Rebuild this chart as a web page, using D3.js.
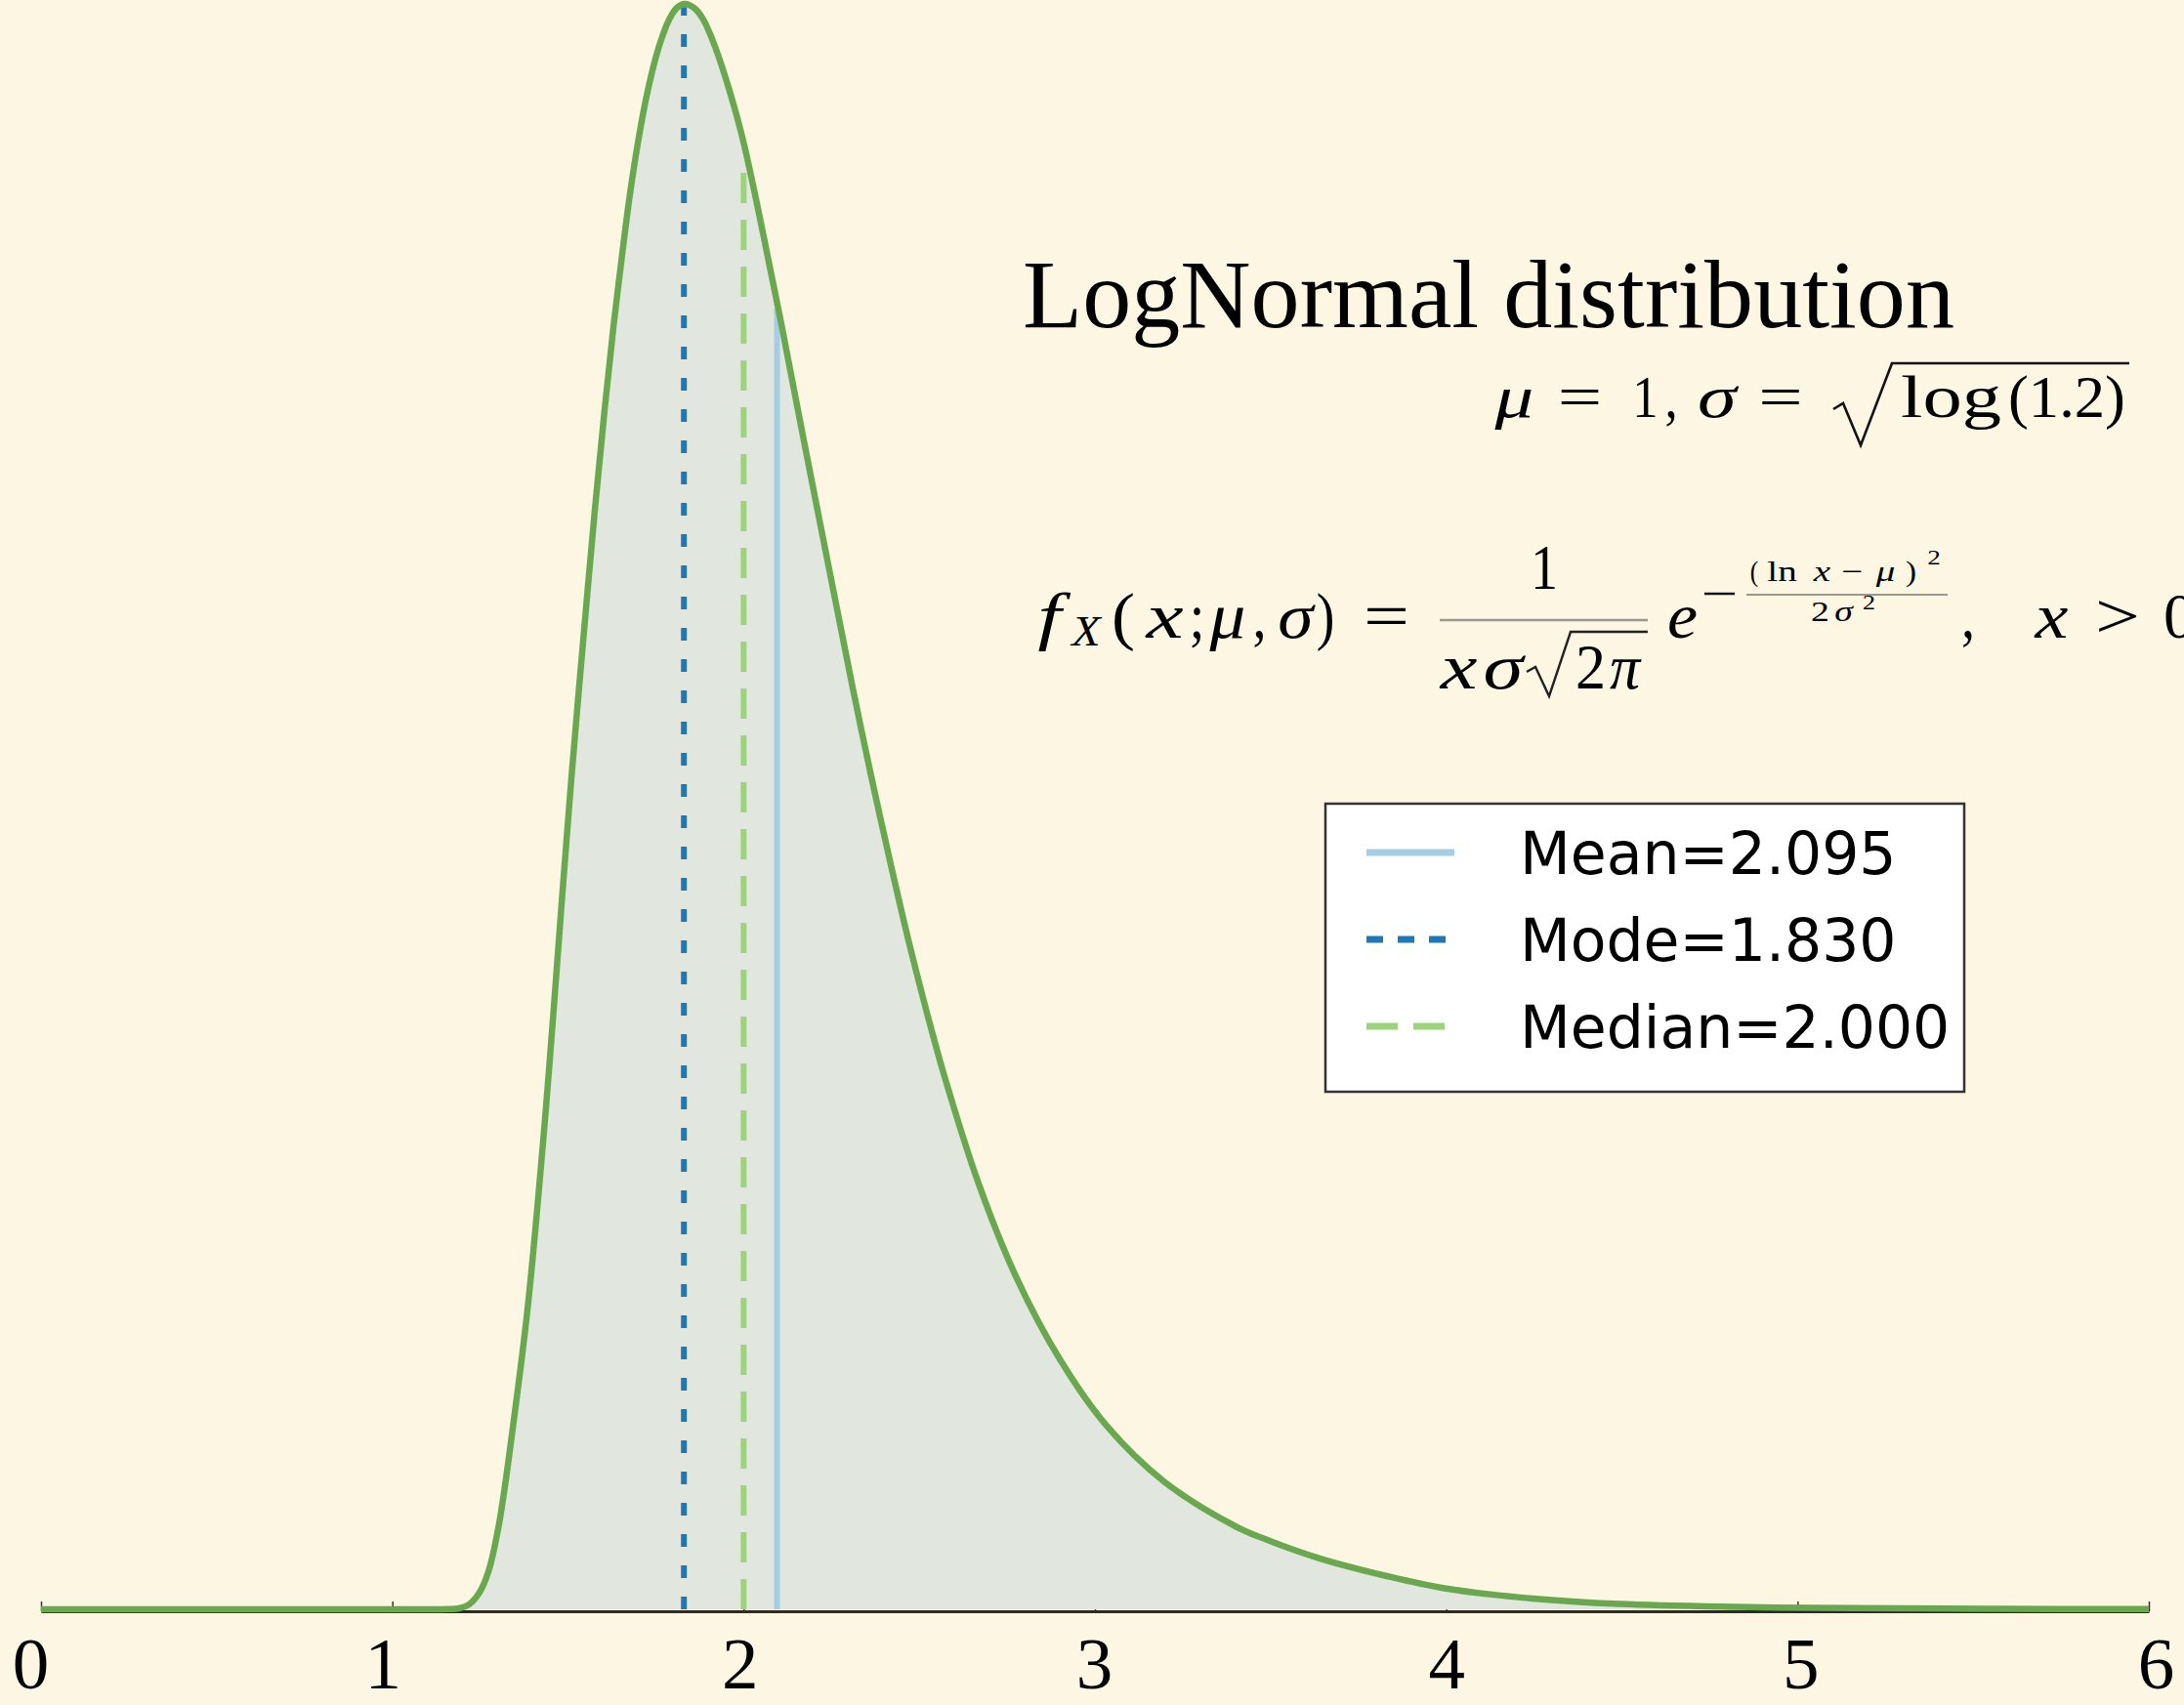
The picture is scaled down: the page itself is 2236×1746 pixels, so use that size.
<!DOCTYPE html>
<html>
<head>
<meta charset="utf-8">
<script src="https://cdn.jsdelivr.net/npm/d3@7"></script>
<style>
  html, body { margin: 0; padding: 0; background: #fdf6e3; }
  svg { display: block; }
</style>
</head>
<body>
<svg id="chart" width="2236" height="1746"></svg>
<script>
// ---------------- data ----------------
const xTicks = [0, 1, 2, 3, 4, 5, 6];
const xTickLabels = ["0", "1", "2", "3", "4", "5", "6"];

// density curve samples (x, pdf)
const curveX = [0.0, 0.5, 1.0, 1.162, 1.190, 1.218, 1.246, 1.273, 1.304, 1.351, 1.385, 1.412, 1.436,
  1.458, 1.483, 1.512, 1.544, 1.577, 1.605, 1.630, 1.652, 1.676, 1.702, 1.727, 1.757, 1.788, 1.810,
  1.832, 1.860, 1.885, 1.921, 1.960, 1.996, 2.033, 2.071, 2.108, 2.153, 2.198, 2.260, 2.312, 2.362,
  2.420, 2.472, 2.524, 2.570, 2.667, 2.775, 2.902, 3.033, 3.196, 3.400, 3.498, 3.637, 3.831,
  3.995, 4.246, 4.493, 4.827, 5.158, 5.583, 6.0];
const curveY = [0.0, 0.0, 0.0, 0.0001, 0.0006, 0.0030, 0.0097, 0.0231, 0.0535, 0.1265, 0.1873, 0.2482, 0.3090,
  0.3698, 0.4428, 0.5237, 0.6052, 0.6861, 0.7488, 0.7999, 0.8400, 0.8808, 0.9173, 0.9459, 0.9720, 0.9903, 0.9976,
  1.0000, 0.9973, 0.9903, 0.9720, 0.9459, 0.9173, 0.8808, 0.8400, 0.7999, 0.7488, 0.6983, 0.6296, 0.5724, 0.5201,
  0.4629, 0.4142, 0.3698, 0.3333, 0.2664, 0.2074, 0.1551, 0.1144, 0.0797, 0.0517, 0.0426, 0.0319, 0.0207,
  0.0131, 0.0067, 0.0033, 0.0015, 0.0007, 0.0003, 0.0001];

// statistic markers
const statNames = ["Mean", "Mode", "Median"];
const statValues = [2.095, 1.830, 2.000];
const statLabels = ["Mean=2.095", "Mode=1.830", "Median=2.000"];
const statTops = [0.810, 0.998, 0.895];   // height each marker line reaches

// ---------------- styles ----------------
const statColors = ["#a6cee3", "#1f78b4", "#9dd47b"];
const statDashLine = [null, "13 19", "31 17"];
const statDashLegend = [null, "17 15", "32 16"];
const curveColor = "#6aa84f";
const fillColor = "#e1e7df";
const tickLabelShift = [-11, -10, -4, -1, 0, 3, 7];

const svg = d3.select("#chart");
svg.append("rect").attr("width", 2236).attr("height", 1746).attr("fill", "#fdf6e3");

const x = d3.scaleLinear().domain([0, 6]).range([42, 2200]);
const y = d3.scaleLinear().domain([0, 1]).range([1648, 4]);

const pts = curveX.map((d, i) => [d, curveY[i]]);

// axis
const axis = d3.axisBottom(x).tickValues(xTicks).tickFormat((d, i) => xTickLabels[i])
  .tickSizeInner(-10).tickSizeOuter(0);
const gAxis = svg.append("g").attr("transform", "translate(0,1650)").call(axis);
gAxis.select(".domain").attr("stroke", "#2b2b2b").attr("stroke-width", 3);
gAxis.selectAll(".tick line").attr("stroke", "#333").attr("stroke-width", 1.5);
gAxis.selectAll(".tick text")
  .attr("y", 79).attr("dy", null)
  .attr("dx", (d, i) => tickLabelShift[i])
  .attr("fill", "#000")
  .style("font-family", "'Liberation Serif', 'Times New Roman', serif")
  .style("font-size", "75px");

// filled area
svg.append("path")
  .datum(pts)
  .attr("fill", fillColor)
  .attr("d", d3.area().x(d => x(d[0])).y0(y(0)).y1(d => y(d[1])).curve(d3.curveCatmullRom.alpha(0.5)));

// vertical stat lines (drawn bottom-up)
statValues.forEach((v, i) => {
  svg.append("line")
    .attr("x1", x(v)).attr("x2", x(v))
    .attr("y1", y(0)).attr("y2", y(statTops[i]))
    .attr("stroke", statColors[i])
    .attr("stroke-width", 6)
    .attr("stroke-dasharray", statDashLine[i]);
});

// curve
svg.append("path")
  .datum(pts)
  .attr("fill", "none")
  .attr("stroke", curveColor)
  .attr("stroke-width", 6.5)
  .attr("stroke-linejoin", "round")
  .attr("d", d3.line().x(d => x(d[0])).y(d => y(d[1])).curve(d3.curveCatmullRom.alpha(0.5)));

// ---------------- text ----------------
const serif = "'Liberation Serif', 'Times New Roman', serif";
// place a text piece centred in [x0,x1], horizontally scaled to fill that width
function put(txt, x0, x1, base, size, italic, font) {
  const cx = (x0 + x1) / 2;
  const t = svg.append("text")
    .attr("x", cx).attr("y", base)
    .attr("text-anchor", "middle")
    .style("font-family", font || serif)
    .style("font-size", size + "px")
    .style("font-style", italic ? "italic" : "normal")
    .attr("fill", "#000")
    .text(txt);
  const w = t.node().getBBox().width;
  if (w > 0) {
    let sx = (x1 - x0) / w;
    sx = Math.max(0.85, Math.min(1.3, sx));
    t.attr("transform", `translate(${cx},0) scale(${sx},1) translate(${-cx},0)`);
  }
  return t;
}

// title
svg.append("text").attr("x", 1047).attr("y", 335)
  .style("font-family", serif).style("font-size", "100px").attr("fill", "#000")
  .attr("textLength", 954).attr("lengthAdjust", "spacingAndGlyphs")
  .text("LogNormal distribution");

// parameters line
put("\u03bc", 1530, 1571, 427, 62, true);
put("=", 1594, 1641, 427, 62, false);
put("1", 1674, 1695, 427, 62, false);
put(",", 1706, 1716, 427, 62, false);
put("\u03c3", 1736, 1780, 427, 62, true);
put("=", 1800, 1846, 427, 62, false);
svg.append("path").attr("d", "M1877,419 L1887,413 L1905,456 L1937,372 L2180,372")
  .attr("fill", "none").attr("stroke", "#111").attr("stroke-width", 2.6).attr("stroke-linejoin", "miter");
put("log", 1945, 2050, 427, 62, false);
put("(1.2)", 2056, 2176, 427, 62, false);

// pdf formula
put("f", 1057, 1092, 653, 66, true);
put("X", 1095, 1129, 661, 44, true);
put("(", 1138, 1162, 653, 66, false);
put("x", 1171, 1214, 653, 66, true);
put(";", 1219, 1232, 653, 66, false);
put("\u03bc", 1238, 1276, 653, 66, true);
put(",", 1284, 1295, 653, 66, false);
put("\u03c3", 1307, 1346, 653, 66, true);
put(")", 1350, 1364, 653, 66, false);
put("=", 1396, 1443, 653, 66, false);
svg.append("line").attr("x1", 1474).attr("x2", 1687).attr("y1", 635).attr("y2", 635)
  .attr("stroke", "#9a978e").attr("stroke-width", 2.5);
put("1", 1568, 1594, 603, 66, false);
put("x", 1474, 1513, 705, 66, true);
put("\u03c3", 1517, 1561, 705, 66, true);
svg.append("path").attr("d", "M1563,688 L1572,683 L1586,713 L1608,647 L1687,647")
  .attr("fill", "none").attr("stroke", "#222").attr("stroke-width", 2.4);
put("2", 1613, 1644, 705, 66, false);
put("\u03c0", 1647, 1680, 705, 66, true);
put("e", 1707, 1738, 653, 66, true);
svg.append("line").attr("x1", 1745).attr("x2", 1776).attr("y1", 608).attr("y2", 608)
  .attr("stroke", "#111").attr("stroke-width", 2.5);
// exponent
put("(", 1792, 1800, 595, 30, false);
put("ln", 1803, 1846, 595, 30, false);
put("x", 1854, 1877, 595, 30, true);
put("\u2212", 1881, 1912, 595, 30, false);
put("\u03bc", 1916, 1945, 595, 30, true);
put(")", 1951, 1962, 595, 30, false);
put("2", 1970, 1990, 578, 21, false);
svg.append("line").attr("x1", 1788).attr("x2", 1994).attr("y1", 609).attr("y2", 609)
  .attr("stroke", "#9a978e").attr("stroke-width", 2);
put("2", 1854, 1873, 636, 29, false);
put("\u03c3", 1875, 1900, 636, 29, true);
put("2", 1905, 1922, 624, 20, false);
put(",", 2010, 2020, 653, 66, false);
put("x", 2083, 2118, 653, 66, true);
put(">", 2145, 2191, 653, 66, false);
put("0", 2215, 2248, 653, 66, false);

// ---------------- legend ----------------
const lg = svg.append("g");
lg.append("rect").attr("x", 1357).attr("y", 823).attr("width", 654).attr("height", 295)
  .attr("fill", "#fff").attr("stroke", "#333").attr("stroke-width", 2.5);
const legendRowY = [873, 962, 1051];
statNames.forEach((n, i) => {
  lg.append("line")
    .attr("x1", 1399).attr("x2", 1489)
    .attr("y1", legendRowY[i]).attr("y2", legendRowY[i])
    .attr("stroke", statColors[i]).attr("stroke-width", 7)
    .attr("stroke-dasharray", statDashLegend[i]);
  lg.append("text")
    .attr("x", 1556).attr("y", legendRowY[i] + 22)
    .style("font-family", "'DejaVu Sans', sans-serif")
    .style("font-size", "60px")
    .attr("fill", "#000")
    .text(statLabels[i]);
});
</script>
</body>
</html>
